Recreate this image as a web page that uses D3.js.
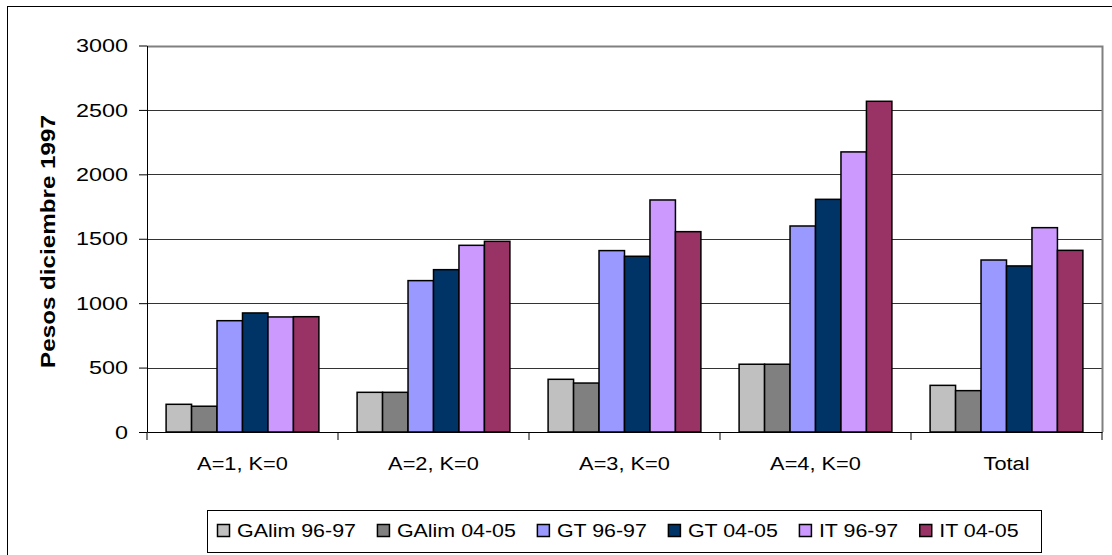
<!DOCTYPE html>
<html>
<head>
<meta charset="utf-8">
<script src="https://cdn.jsdelivr.net/npm/d3@7"></script>
<style>
  body { margin: 0; background: #fff; }
  text { font-family: "Liberation Sans", Arial, sans-serif; }
</style>
</head>
<body>
<div id="chart"></div>
<script>
const categories = ["A=1, K=0", "A=2, K=0", "A=3, K=0", "A=4, K=0", "Total"];
const seriesNames = ["GAlim 96-97", "GAlim 04-05", "GT 96-97", "GT 04-05", "IT 96-97", "IT 04-05"];
const seriesColors = ["#c0c0c0", "#808080", "#9999ff", "#003366", "#cc99ff", "#993366"];
const galim9697 = [215, 308, 409, 526, 362];
const galim0405 = [200, 308, 380, 526, 321];
const gt9697 = [864, 1175, 1408, 1599, 1335];
const gt0405 = [924, 1260, 1364, 1806, 1289];
const it9697 = [893, 1449, 1801, 2174, 1586];
const it0405 = [895, 1480, 1555, 2567, 1410];
const yTicks = [0, 500, 1000, 1500, 2000, 2500, 3000];

const seriesValues = [galim9697, galim0405, gt9697, gt0405, it9697, it0405];

const width = 1112, height = 555;
const plot = {left: 147, right: 1102, top: 45.5, bottom: 432};

const svg = d3.select("#chart").append("svg")
  .attr("width", width)
  .attr("height", height);

// chart area border (runs off the picture on the right and bottom)
svg.append("rect")
  .attr("x", 7.5).attr("y", 6.5)
  .attr("width", 1200).attr("height", 600)
  .attr("fill", "#fff")
  .attr("stroke", "#000")
  .attr("stroke-width", 1);

const x0 = d3.scaleBand()
  .domain(categories)
  .range([plot.left, plot.right]);

const x1 = d3.scaleBand()
  .domain(seriesNames)
  .range([0, x0.bandwidth()])
  .paddingOuter(0.75);

const y = d3.scaleLinear()
  .domain([0, 3000])
  .range([plot.bottom, plot.top]);

// gridlines
svg.append("g")
  .selectAll("line")
  .data(yTicks.filter(d => d > 0))
  .join("line")
    .attr("x1", plot.left).attr("x2", plot.right)
    .attr("y1", d => Math.round(y(d)) + 0.5)
    .attr("y2", d => Math.round(y(d)) + 0.5)
    .attr("stroke", "#333")
    .attr("stroke-width", 1);

// plot area border top/right
svg.append("path")
  .attr("d", `M${plot.left},${Math.round(plot.top) + 0.5}H${plot.right + 0.5}V${plot.bottom}`)
  .attr("fill", "none")
  .attr("stroke", "#808080")
  .attr("stroke-width", 2);

// bars
const rows = categories.map((c, i) => ({cat: c, vals: seriesNames.map((s, j) => ({s, v: seriesValues[j][i], c: seriesColors[j]}))}));

svg.append("g")
  .selectAll("g")
  .data(rows)
  .join("g")
    .attr("transform", d => `translate(${x0(d.cat)},0)`)
  .selectAll("rect")
  .data(d => d.vals)
  .join("rect")
    .attr("x", d => x1(d.s))
    .attr("y", d => y(d.v))
    .attr("width", x1.bandwidth())
    .attr("height", d => y(0) - y(d.v))
    .attr("fill", d => d.c)
    .attr("stroke", "#000")
    .attr("stroke-width", 1.5);

// y axis
svg.append("g")
  .attr("transform", `translate(${plot.left},0)`)
  .call(d3.axisLeft(y).tickValues(yTicks).tickSize(8).tickSizeOuter(0).tickFormat(d3.format("d")))
  .call(g => g.select(".domain").attr("stroke", "#000"))
  .call(g => g.selectAll(".tick line").attr("stroke", "#000"))
  .call(g => g.selectAll(".tick text")
    .attr("x", null)
    .attr("transform", "translate(-19,0) scale(1.23,1)")
    .attr("font-size", 19)
    .attr("font-family", "Liberation Sans, Arial, sans-serif")
    .attr("fill", "#000"));

// x axis
svg.append("g")
  .attr("transform", `translate(0,${plot.bottom})`)
  .call(d3.axisBottom(x0).tickSize(0).tickSizeOuter(0).tickFormat(""))
  .call(g => g.select(".domain").attr("stroke", "#000"))
  .call(g => g.selectAll(".tick").remove());

svg.append("g")
  .selectAll("line")
  .data(categories.map(c => x0(c)).concat([plot.right]))
  .join("line")
    .attr("x1", d => d).attr("x2", d => d)
    .attr("y1", plot.bottom).attr("y2", plot.bottom + 8)
    .attr("stroke", "#000");

svg.append("g")
  .selectAll("text")
  .data(categories)
  .join("text")
    .attr("transform", d => `translate(${x0(d) + x0.bandwidth() / 2},470) scale(1.21,1)`)
    .attr("text-anchor", "middle")
    .attr("font-size", 18)
    .attr("fill", "#000")
    .text(d => d);

// y axis title
svg.append("text")
  .attr("transform", "translate(55,241.5) rotate(-90) scale(1.21,1)")
  .attr("text-anchor", "middle")
  .attr("font-size", 20)
  .attr("font-weight", "bold")
  .attr("fill", "#000")
  .text("Pesos diciembre 1997");

// legend
const legend = svg.append("g");
legend.append("rect")
  .attr("x", 207.5).attr("y", 510.5)
  .attr("width", 834).attr("height", 42)
  .attr("fill", "#fff")
  .attr("stroke", "#000");

let lx = 217;
seriesNames.forEach((s, i) => {
  const item = legend.append("g").attr("transform", `translate(${lx},0)`);
  item.append("rect")
    .attr("x", 0.5).attr("y", 524.5)
    .attr("width", 12).attr("height", 12)
    .attr("fill", seriesColors[i])
    .attr("stroke", "#000")
    .attr("stroke-width", 1.5);
  const t = item.append("text")
    .attr("transform", "translate(20,537) scale(1.19,1)")
    .attr("font-size", 18)
    .attr("fill", "#000")
    .text(s);
  lx += 20 + t.node().getComputedTextLength() * 1.19 + 21;
});
</script>
</body>
</html>
